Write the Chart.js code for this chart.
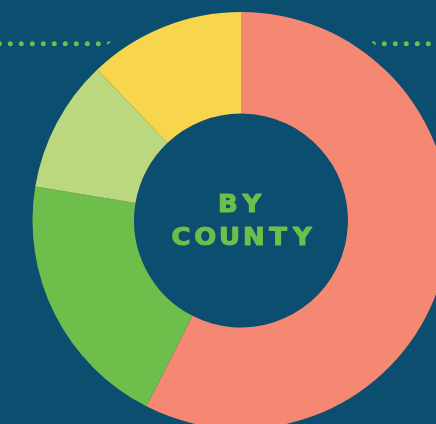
<!DOCTYPE html>
<html>
<head>
<meta charset="utf-8">
<script src="https://cdn.jsdelivr.net/npm/chart.js@4"></script>
<style>
  html, body { margin: 0; padding: 0; background: #0B4E6F; }
  canvas { display: block; }
</style>
</head>
<body>
<canvas id="c" width="436" height="424"></canvas>
<script>
const categories = ["County A", "County B", "County C", "County D"];
const values = [57.5, 20.1, 10.3, 12.1];
const colors = ["#F58873", "#6DBE4B", "#BCD87E", "#F7D54C"];
const centerLines = ["BY", "COUNTY"];

const BG = "#0B4E6F";
const TEXT = "#6DBE4B";

const decor = {
  id: "decor",
  beforeDraw(chart) {
    const ctx = chart.ctx;
    ctx.save();
    ctx.fillStyle = BG;
    ctx.fillRect(0, 0, chart.width, chart.height);
    // dotted rule
    ctx.fillStyle = TEXT;
    for (let x = -0.7; x < chart.width + 5; x += 11) {
      ctx.beginPath();
      ctx.arc(x, 43.7, 2.5, 0, Math.PI * 2);
      ctx.fill();
    }
    // mask ring around chart
    const arc = chart.getDatasetMeta(0).data[0];
    ctx.fillStyle = BG;
    ctx.beginPath();
    ctx.arc(arc.x, arc.y, arc.outerRadius + 12.5, 0, Math.PI * 2);
    ctx.fill();
    ctx.restore();
  },
  afterDatasetsDraw(chart) {
    const ctx = chart.ctx;
    const arc = chart.getDatasetMeta(0).data[0];
    ctx.save();
    ctx.fillStyle = TEXT;
    ctx.strokeStyle = TEXT;
    ctx.lineWidth = 1.1;
    ctx.lineJoin = "round";
    ctx.font = "bold 24px 'DejaVu Sans'";
    ctx.textAlign = "center";
    ctx.textBaseline = "alphabetic";
    const lines = [
      { pitch: 24, cx: arc.x - 1, base: arc.y - 8.3 },
      { pitch: 24.3, cx: arc.x + 0.7, base: arc.y + 24.1 }
    ];
    centerLines.forEach((line, li) => {
      const L = lines[li];
      const chars = line.split("");
      const start = L.cx - (chars.length - 1) * L.pitch / 2;
      chars.forEach((ch, i) => {
        ctx.save();
        ctx.translate(start + i * L.pitch, L.base);
        ctx.scale(1.08, 1);
        ctx.fillText(ch, 0, 0);
        ctx.strokeText(ch, 0, 0);
        ctx.restore();
      });
    });
    ctx.restore();
  }
};

new Chart(document.getElementById("c"), {
  type: "doughnut",
  data: {
    labels: categories,
    datasets: [{
      data: values,
      backgroundColor: colors,
      borderWidth: 0
    }]
  },
  options: {
    responsive: false,
    animation: false,
    radius: 208.5,
    cutout: "51.3%",
    layout: { padding: { left: 46, top: 17, right: 0, bottom: 0 } },
    plugins: {
      legend: { display: false },
      tooltip: { enabled: false }
    }
  },
  plugins: [decor]
});
</script>
</body>
</html>
